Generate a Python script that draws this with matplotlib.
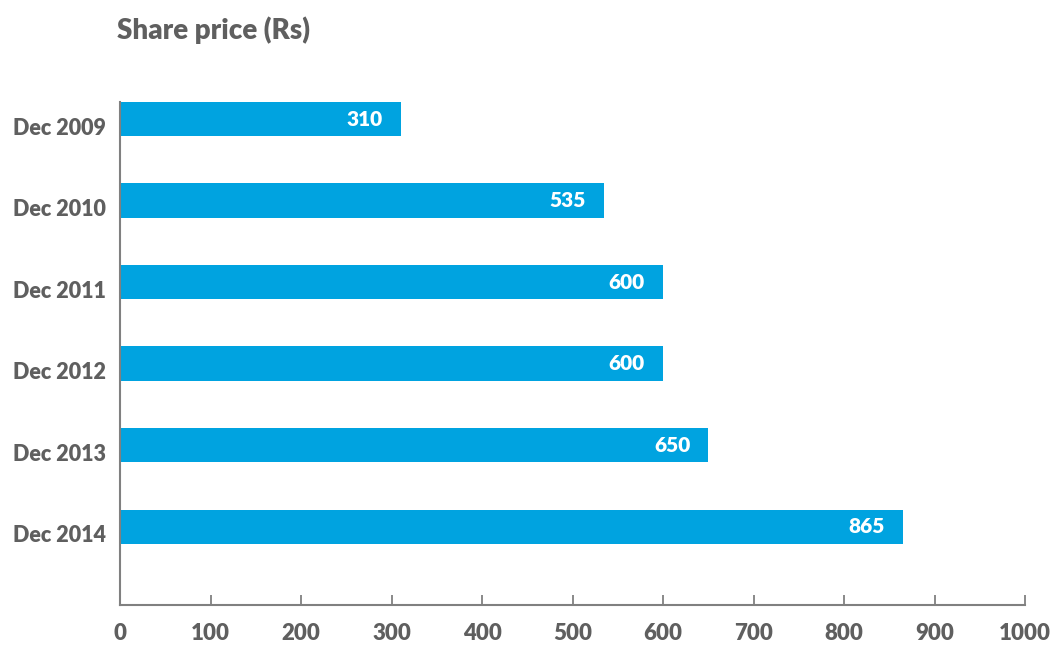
import matplotlib.pyplot as plt
import matplotlib.transforms as mtrans

years = ["Dec 2009", "Dec 2010", "Dec 2011", "Dec 2012", "Dec 2013", "Dec 2014"]
prices = [310, 535, 600, 600, 650, 865]
xticks = [0, 100, 200, 300, 400, 500, 600, 700, 800, 900, 1000]

plt.rcParams['font.family'] = ['Lato', 'DejaVu Sans']
grey = '#5f5f5f'
blue = '#00a3e0'

fig = plt.figure(figsize=(10.53, 6.47), dpi=100)
ax = fig.add_axes([0.114, 0.065, 0.8595, 0.7775])

pos = range(len(years))
ax.barh(pos, prices, height=0.42, color=blue)
for p, v in zip(pos, prices):
    ax.text(v - 20, p, str(v), color='white', fontsize=15, fontweight='heavy',
            ha='right', va='center')

ax.set_ylim(5.96, -0.21)
ax.set_xlim(0, 1000)
ax.set_yticks(list(pos))
ax.set_yticklabels(years)
ax.set_xticks(xticks)

for s in ['top', 'right']:
    ax.spines[s].set_visible(False)
for s in ['left', 'bottom']:
    ax.spines[s].set_color('#808080')
    ax.spines[s].set_linewidth(1.5)

ax.tick_params(axis='y', length=0, pad=10, labelsize=15.5, labelcolor=grey)
ax.tick_params(axis='x', direction='in', length=7, width=1.3, color='#808080',
               pad=13, labelsize=16, labelcolor=grey)
shift = mtrans.ScaledTranslation(0, -7 / 100, fig.dpi_scale_trans)
for lab in ax.get_yticklabels():
    lab.set_fontweight('heavy')
    lab.set_transform(lab.get_transform() + shift)
for lab in ax.get_xticklabels():
    lab.set_fontweight('heavy')

fig.text(0.111, 0.975, "Share price (Rs)", fontsize=20, fontweight='heavy',
         color=grey, ha='left', va='top')

fig.savefig('out.png', dpi=100)
